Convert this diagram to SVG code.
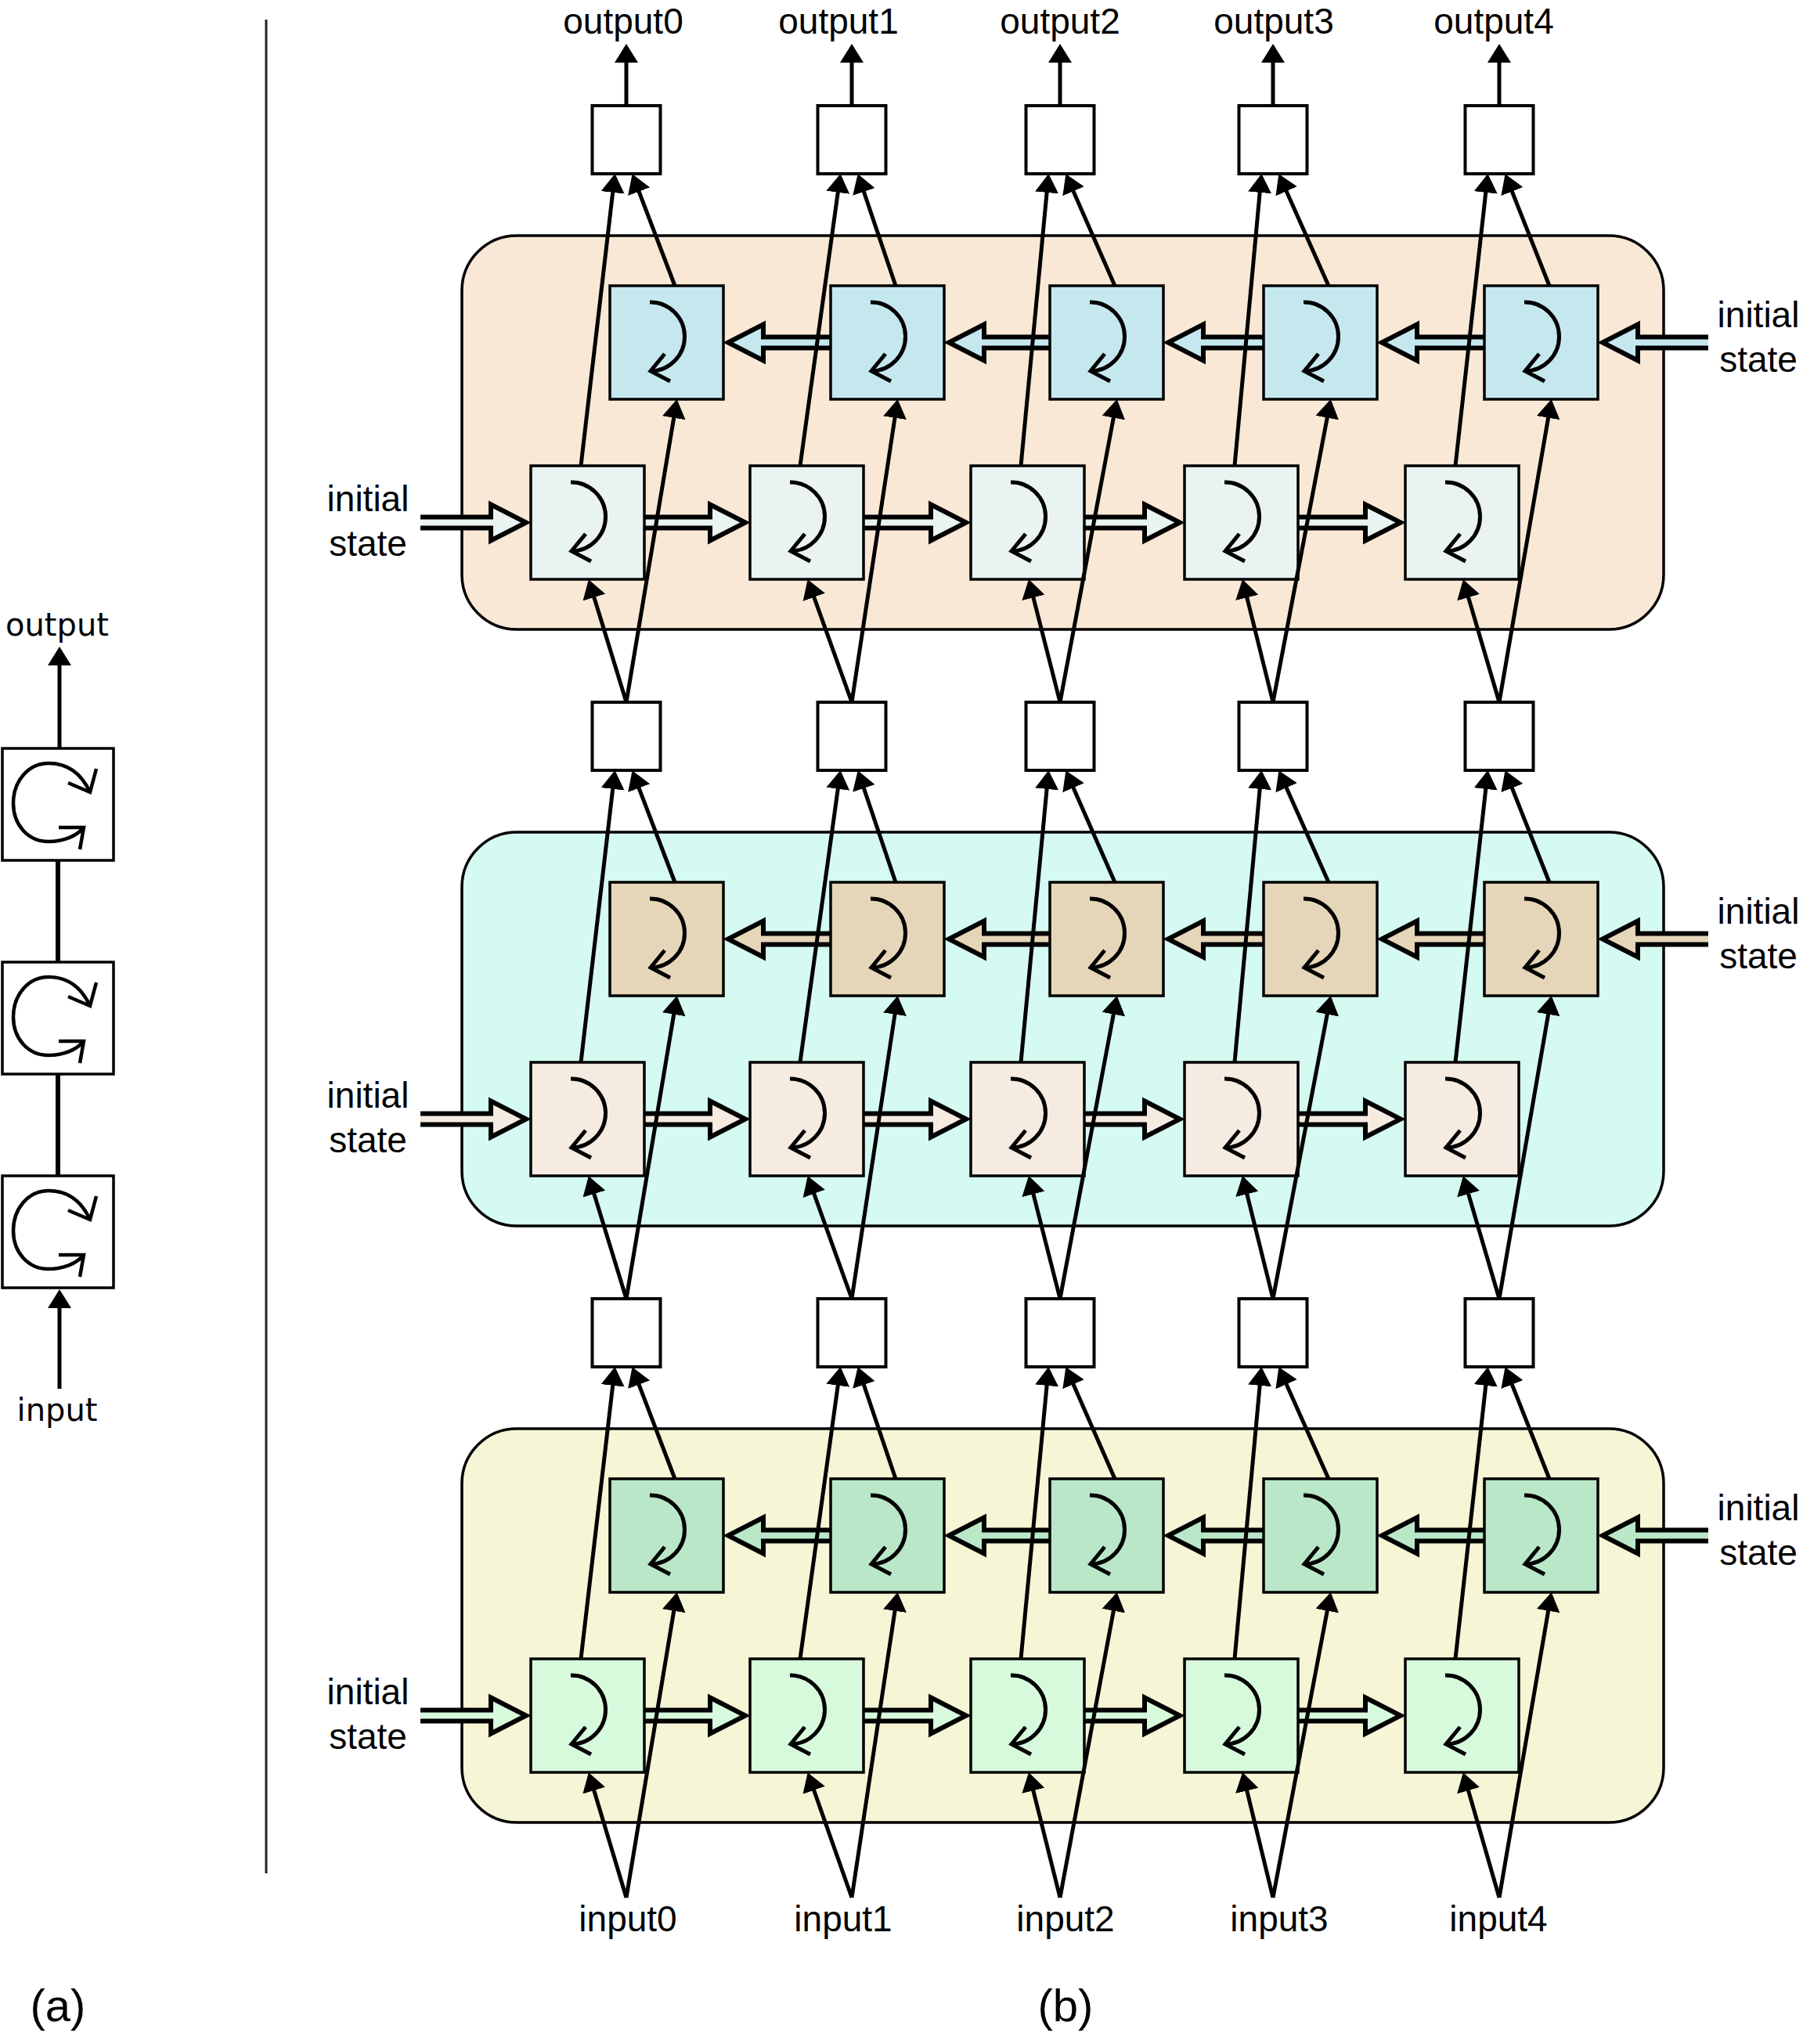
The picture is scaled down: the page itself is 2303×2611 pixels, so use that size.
<svg xmlns="http://www.w3.org/2000/svg" width="2303" height="2611" viewBox="0 0 2303 2611">
<defs>
<marker id="ah" viewBox="0 0 24 30" refX="20" refY="15" markerWidth="24" markerHeight="30" markerUnits="userSpaceOnUse" orient="auto"><path d="M0,0 L24,15 L0,30 Z" fill="#000"/></marker>
<g id="ic" fill="none" stroke="#000" stroke-width="5"><path d="M51,21 A44,44 0 0 1 52,109"/><path d="M70,87 L52,109 L77,122"/></g>
<g id="ic2" fill="none" stroke="#000" stroke-width="4.5"><path d="M112,56 C100,30 82,19 59,19 C33,19 14,42 14,70 C14,98 33,119 59,119 C78,119 95,112 104,101"/><path d="M84,44 L112,56 L120,26"/><path d="M72,101 L104,101 L99,129"/></g>
</defs>
<style>
.panel{stroke:#000;stroke-width:3.5}
.cell{stroke:#000;stroke-width:3.5}
.box{fill:#fff;stroke:#000;stroke-width:4}
.abox{fill:#fff;stroke:#000;stroke-width:3.5}
.dar{stroke:#000;stroke-width:6;stroke-linejoin:miter}
.con{stroke:#000;stroke-width:5;fill:none;marker-end:url(#ah)}
.plain{stroke:#000;stroke-width:6;fill:none}
text{font-family:"Liberation Sans",Arial,Helvetica,sans-serif;font-size:46px;text-anchor:middle;fill:#000}
.ta{font-family:"DejaVu Sans",Verdana,sans-serif;font-size:40px}
.cap{font-size:58px}
</style>
<rect width="2303" height="2611" fill="#fff"/>

<!-- separator -->
<line x1="340" y1="25" x2="340" y2="2393" stroke="#222" stroke-width="3"/>

<!-- (a) panel -->
<g id="a_boxes">
<g id="a_cell_top"><rect class="abox" x="3" y="956" width="142" height="143"/><use href="#ic2" x="3" y="956"/></g>
<g id="a_cell_mid"><rect class="abox" x="3" y="1229" width="142" height="143"/><use href="#ic2" x="3" y="1229"/></g>
<g id="a_cell_bot"><rect class="abox" x="3" y="1502" width="142" height="143"/><use href="#ic2" x="3" y="1502"/></g>
</g>
<g id="a_connectors">
<line class="con" x1="76" y1="956" x2="76" y2="830" stroke-width="6"/>
<line class="plain" x1="74" y1="1099" x2="74" y2="1229"/>
<line class="plain" x1="74" y1="1372" x2="74" y2="1502"/>
<line class="con" x1="76" y1="1774" x2="76" y2="1651" stroke-width="6"/>
</g>
<g id="a_labels">
<text class="ta" x="73" y="812">output</text>
<text class="ta" x="73" y="1815">input</text>
</g>

<!-- ===== Layer panels (b) ===== -->
<!-- top layer (orange) -->
<g id="layer_top">
<rect id="panel_top" class="panel" x="590" y="301" width="1535" height="503" rx="70" fill="#f9e8d5"/>
<g id="top_state_arrows">
<path class="dar" fill="#e9f3f1" d="M537,660.5 H627 V644.5 L672,667.5 L627,690.5 V674.5 H537"/>
<path class="dar" fill="#e9f3f1" d="M823,660.5 H907 V644.5 L952,667.5 L907,690.5 V674.5 H823"/>
<path class="dar" fill="#e9f3f1" d="M1103,660.5 H1189 V644.5 L1234,667.5 L1189,690.5 V674.5 H1103"/>
<path class="dar" fill="#e9f3f1" d="M1385,660.5 H1462 V644.5 L1507,667.5 L1462,690.5 V674.5 H1385"/>
<path class="dar" fill="#e9f3f1" d="M1658,660.5 H1744 V644.5 L1789,667.5 L1744,690.5 V674.5 H1658"/>
<path class="dar" fill="#c5e8ef" d="M2182,430.5 H2092 V414.5 L2047,437.5 L2092,460.5 V444.5 H2182"/>
<path class="dar" fill="#c5e8ef" d="M1896,430.5 H1810 V414.5 L1765,437.5 L1810,460.5 V444.5 H1896"/>
<path class="dar" fill="#c5e8ef" d="M1614,430.5 H1537 V414.5 L1492,437.5 L1537,460.5 V444.5 H1614"/>
<path class="dar" fill="#c5e8ef" d="M1341,430.5 H1257 V414.5 L1212,437.5 L1257,460.5 V444.5 H1341"/>
<path class="dar" fill="#c5e8ef" d="M1061,430.5 H975 V414.5 L930,437.5 L975,460.5 V444.5 H1061"/>
</g>
<g id="top_f0"><rect class="cell" x="678" y="595" width="145" height="145" fill="#e9f3f1"/><use href="#ic" x="678" y="595"/></g>
<g id="top_f1"><rect class="cell" x="958" y="595" width="145" height="145" fill="#e9f3f1"/><use href="#ic" x="958" y="595"/></g>
<g id="top_f2"><rect class="cell" x="1240" y="595" width="145" height="145" fill="#e9f3f1"/><use href="#ic" x="1240" y="595"/></g>
<g id="top_f3"><rect class="cell" x="1513" y="595" width="145" height="145" fill="#e9f3f1"/><use href="#ic" x="1513" y="595"/></g>
<g id="top_f4"><rect class="cell" x="1795" y="595" width="145" height="145" fill="#e9f3f1"/><use href="#ic" x="1795" y="595"/></g>
<g id="top_b0"><rect class="cell" x="779" y="365" width="145" height="145" fill="#c5e8ef"/><use href="#ic" x="779" y="365"/></g>
<g id="top_b1"><rect class="cell" x="1061" y="365" width="145" height="145" fill="#c5e8ef"/><use href="#ic" x="1061" y="365"/></g>
<g id="top_b2"><rect class="cell" x="1341" y="365" width="145" height="145" fill="#c5e8ef"/><use href="#ic" x="1341" y="365"/></g>
<g id="top_b3"><rect class="cell" x="1614" y="365" width="145" height="145" fill="#c5e8ef"/><use href="#ic" x="1614" y="365"/></g>
<g id="top_b4"><rect class="cell" x="1896" y="365" width="145" height="145" fill="#c5e8ef"/><use href="#ic" x="1896" y="365"/></g>
<g id="top_init_left"><text x="470" y="653">initial</text><text x="470" y="710">state</text></g>
<g id="top_init_right"><text x="2246" y="418">initial</text><text x="2246" y="475">state</text></g>
</g>

<!-- middle layer (cyan) -->
<g id="layer_mid" transform="translate(0,762)">
<rect id="panel_mid" class="panel" x="590" y="301" width="1535" height="503" rx="70" fill="#d4faf1"/>
<g id="mid_state_arrows">
<path class="dar" fill="#f5ebe0" d="M537,660.5 H627 V644.5 L672,667.5 L627,690.5 V674.5 H537"/>
<path class="dar" fill="#f5ebe0" d="M823,660.5 H907 V644.5 L952,667.5 L907,690.5 V674.5 H823"/>
<path class="dar" fill="#f5ebe0" d="M1103,660.5 H1189 V644.5 L1234,667.5 L1189,690.5 V674.5 H1103"/>
<path class="dar" fill="#f5ebe0" d="M1385,660.5 H1462 V644.5 L1507,667.5 L1462,690.5 V674.5 H1385"/>
<path class="dar" fill="#f5ebe0" d="M1658,660.5 H1744 V644.5 L1789,667.5 L1744,690.5 V674.5 H1658"/>
<path class="dar" fill="#e6d6b9" d="M2182,430.5 H2092 V414.5 L2047,437.5 L2092,460.5 V444.5 H2182"/>
<path class="dar" fill="#e6d6b9" d="M1896,430.5 H1810 V414.5 L1765,437.5 L1810,460.5 V444.5 H1896"/>
<path class="dar" fill="#e6d6b9" d="M1614,430.5 H1537 V414.5 L1492,437.5 L1537,460.5 V444.5 H1614"/>
<path class="dar" fill="#e6d6b9" d="M1341,430.5 H1257 V414.5 L1212,437.5 L1257,460.5 V444.5 H1341"/>
<path class="dar" fill="#e6d6b9" d="M1061,430.5 H975 V414.5 L930,437.5 L975,460.5 V444.5 H1061"/>
</g>
<g id="mid_f0"><rect class="cell" x="678" y="595" width="145" height="145" fill="#f5ebe0"/><use href="#ic" x="678" y="595"/></g>
<g id="mid_f1"><rect class="cell" x="958" y="595" width="145" height="145" fill="#f5ebe0"/><use href="#ic" x="958" y="595"/></g>
<g id="mid_f2"><rect class="cell" x="1240" y="595" width="145" height="145" fill="#f5ebe0"/><use href="#ic" x="1240" y="595"/></g>
<g id="mid_f3"><rect class="cell" x="1513" y="595" width="145" height="145" fill="#f5ebe0"/><use href="#ic" x="1513" y="595"/></g>
<g id="mid_f4"><rect class="cell" x="1795" y="595" width="145" height="145" fill="#f5ebe0"/><use href="#ic" x="1795" y="595"/></g>
<g id="mid_b0"><rect class="cell" x="779" y="365" width="145" height="145" fill="#e6d6b9"/><use href="#ic" x="779" y="365"/></g>
<g id="mid_b1"><rect class="cell" x="1061" y="365" width="145" height="145" fill="#e6d6b9"/><use href="#ic" x="1061" y="365"/></g>
<g id="mid_b2"><rect class="cell" x="1341" y="365" width="145" height="145" fill="#e6d6b9"/><use href="#ic" x="1341" y="365"/></g>
<g id="mid_b3"><rect class="cell" x="1614" y="365" width="145" height="145" fill="#e6d6b9"/><use href="#ic" x="1614" y="365"/></g>
<g id="mid_b4"><rect class="cell" x="1896" y="365" width="145" height="145" fill="#e6d6b9"/><use href="#ic" x="1896" y="365"/></g>
<g id="mid_init_left"><text x="470" y="653">initial</text><text x="470" y="710">state</text></g>
<g id="mid_init_right"><text x="2246" y="418">initial</text><text x="2246" y="475">state</text></g>
</g>

<!-- bottom layer (yellow) -->
<g id="layer_bot" transform="translate(0,1524)">
<rect id="panel_bot" class="panel" x="590" y="301" width="1535" height="503" rx="70" fill="#f6f6d6"/>
<g id="bot_state_arrows">
<path class="dar" fill="#d7fadd" d="M537,660.5 H627 V644.5 L672,667.5 L627,690.5 V674.5 H537"/>
<path class="dar" fill="#d7fadd" d="M823,660.5 H907 V644.5 L952,667.5 L907,690.5 V674.5 H823"/>
<path class="dar" fill="#d7fadd" d="M1103,660.5 H1189 V644.5 L1234,667.5 L1189,690.5 V674.5 H1103"/>
<path class="dar" fill="#d7fadd" d="M1385,660.5 H1462 V644.5 L1507,667.5 L1462,690.5 V674.5 H1385"/>
<path class="dar" fill="#d7fadd" d="M1658,660.5 H1744 V644.5 L1789,667.5 L1744,690.5 V674.5 H1658"/>
<path class="dar" fill="#b9e7c8" d="M2182,430.5 H2092 V414.5 L2047,437.5 L2092,460.5 V444.5 H2182"/>
<path class="dar" fill="#b9e7c8" d="M1896,430.5 H1810 V414.5 L1765,437.5 L1810,460.5 V444.5 H1896"/>
<path class="dar" fill="#b9e7c8" d="M1614,430.5 H1537 V414.5 L1492,437.5 L1537,460.5 V444.5 H1614"/>
<path class="dar" fill="#b9e7c8" d="M1341,430.5 H1257 V414.5 L1212,437.5 L1257,460.5 V444.5 H1341"/>
<path class="dar" fill="#b9e7c8" d="M1061,430.5 H975 V414.5 L930,437.5 L975,460.5 V444.5 H1061"/>
</g>
<g id="bot_f0"><rect class="cell" x="678" y="595" width="145" height="145" fill="#d7fadd"/><use href="#ic" x="678" y="595"/></g>
<g id="bot_f1"><rect class="cell" x="958" y="595" width="145" height="145" fill="#d7fadd"/><use href="#ic" x="958" y="595"/></g>
<g id="bot_f2"><rect class="cell" x="1240" y="595" width="145" height="145" fill="#d7fadd"/><use href="#ic" x="1240" y="595"/></g>
<g id="bot_f3"><rect class="cell" x="1513" y="595" width="145" height="145" fill="#d7fadd"/><use href="#ic" x="1513" y="595"/></g>
<g id="bot_f4"><rect class="cell" x="1795" y="595" width="145" height="145" fill="#d7fadd"/><use href="#ic" x="1795" y="595"/></g>
<g id="bot_b0"><rect class="cell" x="779" y="365" width="145" height="145" fill="#b9e7c8"/><use href="#ic" x="779" y="365"/></g>
<g id="bot_b1"><rect class="cell" x="1061" y="365" width="145" height="145" fill="#b9e7c8"/><use href="#ic" x="1061" y="365"/></g>
<g id="bot_b2"><rect class="cell" x="1341" y="365" width="145" height="145" fill="#b9e7c8"/><use href="#ic" x="1341" y="365"/></g>
<g id="bot_b3"><rect class="cell" x="1614" y="365" width="145" height="145" fill="#b9e7c8"/><use href="#ic" x="1614" y="365"/></g>
<g id="bot_b4"><rect class="cell" x="1896" y="365" width="145" height="145" fill="#b9e7c8"/><use href="#ic" x="1896" y="365"/></g>
<g id="bot_init_left"><text x="470" y="653">initial</text><text x="470" y="710">state</text></g>
<g id="bot_init_right"><text x="2246" y="418">initial</text><text x="2246" y="475">state</text></g>
</g>

<!-- output / intermediate boxes -->
<g id="out_boxes">
<g id="out0"><rect class="box" x="756.5" y="135" width="87" height="87"/></g>
<g id="out1"><rect class="box" x="1044.5" y="135" width="87" height="87"/></g>
<g id="out2"><rect class="box" x="1310.5" y="135" width="87" height="87"/></g>
<g id="out3"><rect class="box" x="1582.5" y="135" width="87" height="87"/></g>
<g id="out4"><rect class="box" x="1871.5" y="135" width="87" height="87"/></g>
</g>
<g id="mid_boxes">
<g id="m0"><rect class="box" x="756.5" y="897" width="87" height="87"/></g>
<g id="m1"><rect class="box" x="1044.5" y="897" width="87" height="87"/></g>
<g id="m2"><rect class="box" x="1310.5" y="897" width="87" height="87"/></g>
<g id="m3"><rect class="box" x="1582.5" y="897" width="87" height="87"/></g>
<g id="m4"><rect class="box" x="1871.5" y="897" width="87" height="87"/></g>
</g>
<g id="low_boxes">
<g id="l0"><rect class="box" x="756.5" y="1659" width="87" height="87"/></g>
<g id="l1"><rect class="box" x="1044.5" y="1659" width="87" height="87"/></g>
<g id="l2"><rect class="box" x="1310.5" y="1659" width="87" height="87"/></g>
<g id="l3"><rect class="box" x="1582.5" y="1659" width="87" height="87"/></g>
<g id="l4"><rect class="box" x="1871.5" y="1659" width="87" height="87"/></g>
</g>

<!-- connectors -->
<g id="connectors">
<g id="out_arrows">
<line class="con" x1="800" y1="135" x2="800" y2="60"/>
<line class="con" x1="1088" y1="135" x2="1088" y2="60"/>
<line class="con" x1="1354" y1="135" x2="1354" y2="60"/>
<line class="con" x1="1626" y1="135" x2="1626" y2="60"/>
<line class="con" x1="1915" y1="135" x2="1915" y2="60"/>
</g>
<g id="con_top">
<path class="con" d="M742,595 L785,226"/><path class="con" d="M1022,595 L1073,226"/><path class="con" d="M1304,595 L1339,226"/><path class="con" d="M1577,595 L1611,226"/><path class="con" d="M1859,595 L1900,226"/>
<path class="con" d="M862,365 L809,226"/><path class="con" d="M1144,365 L1097,226"/><path class="con" d="M1424,365 L1363,226"/><path class="con" d="M1697,365 L1635,226"/><path class="con" d="M1979,365 L1924,226"/>
<path class="con" d="M800,897 L753,744"/><path class="con" d="M1088,897 L1033,744"/><path class="con" d="M1354,897 L1315,744"/><path class="con" d="M1626,897 L1588,744"/><path class="con" d="M1915,897 L1870,744"/>
<path class="con" d="M800,897 L864,514"/><path class="con" d="M1088,897 L1146,514"/><path class="con" d="M1354,897 L1426,514"/><path class="con" d="M1626,897 L1699,514"/><path class="con" d="M1915,897 L1981,514"/>
</g>
<g id="con_mid" transform="translate(0,762)">
<path class="con" d="M742,595 L785,226"/><path class="con" d="M1022,595 L1073,226"/><path class="con" d="M1304,595 L1339,226"/><path class="con" d="M1577,595 L1611,226"/><path class="con" d="M1859,595 L1900,226"/>
<path class="con" d="M862,365 L809,226"/><path class="con" d="M1144,365 L1097,226"/><path class="con" d="M1424,365 L1363,226"/><path class="con" d="M1697,365 L1635,226"/><path class="con" d="M1979,365 L1924,226"/>
<path class="con" d="M800,897 L753,744"/><path class="con" d="M1088,897 L1033,744"/><path class="con" d="M1354,897 L1315,744"/><path class="con" d="M1626,897 L1588,744"/><path class="con" d="M1915,897 L1870,744"/>
<path class="con" d="M800,897 L864,514"/><path class="con" d="M1088,897 L1146,514"/><path class="con" d="M1354,897 L1426,514"/><path class="con" d="M1626,897 L1699,514"/><path class="con" d="M1915,897 L1981,514"/>
</g>
<g id="con_bot" transform="translate(0,1524)">
<path class="con" d="M742,595 L785,226"/><path class="con" d="M1022,595 L1073,226"/><path class="con" d="M1304,595 L1339,226"/><path class="con" d="M1577,595 L1611,226"/><path class="con" d="M1859,595 L1900,226"/>
<path class="con" d="M862,365 L809,226"/><path class="con" d="M1144,365 L1097,226"/><path class="con" d="M1424,365 L1363,226"/><path class="con" d="M1697,365 L1635,226"/><path class="con" d="M1979,365 L1924,226"/>
<path class="con" d="M800,900 L753,744"/><path class="con" d="M1088,900 L1033,744"/><path class="con" d="M1354,900 L1315,744"/><path class="con" d="M1626,900 L1588,744"/><path class="con" d="M1915,900 L1870,744"/>
<path class="con" d="M800,900 L864,514"/><path class="con" d="M1088,900 L1146,514"/><path class="con" d="M1354,900 L1426,514"/><path class="con" d="M1626,900 L1699,514"/><path class="con" d="M1915,900 L1981,514"/>
</g>
</g>

<!-- labels -->
<g id="output_labels">
<text x="796" y="43">output0</text>
<text x="1071" y="43">output1</text>
<text x="1354" y="43">output2</text>
<text x="1627" y="43">output3</text>
<text x="1908" y="43">output4</text>
</g>
<g id="input_labels">
<text x="802" y="2467">input0</text>
<text x="1077" y="2467">input1</text>
<text x="1361" y="2467">input2</text>
<text x="1634" y="2467">input3</text>
<text x="1914" y="2467">input4</text>
</g>
<g id="captions">
<text class="cap" x="74" y="2582">(a)</text>
<text class="cap" x="1361" y="2582">(b)</text>
</g>
</svg>
